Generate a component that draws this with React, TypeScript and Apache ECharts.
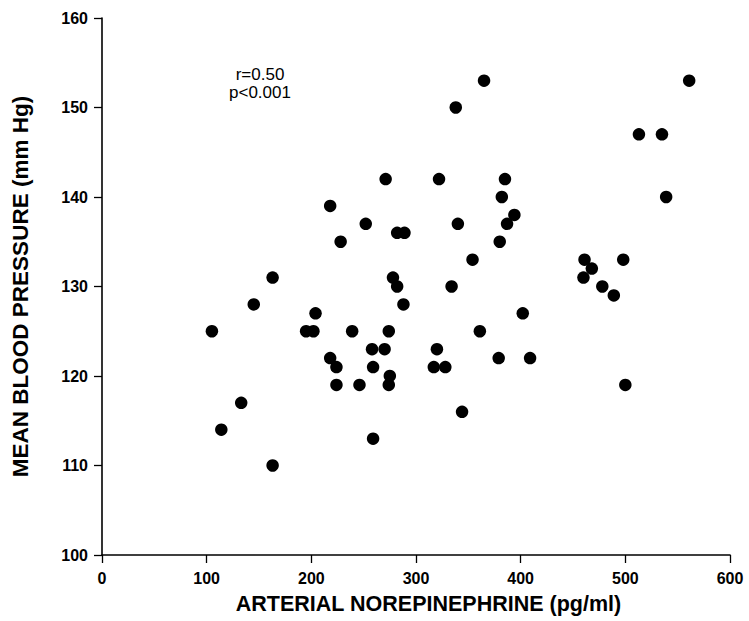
import React, { useEffect, useRef } from "react";
import * as echarts from "echarts";

const norepinephrine = [
  271, 218, 252, 282, 289, 228, 163, 278, 282, 365,
  338, 561, 513, 535, 539, 322, 385, 382, 394, 387,
  340, 380, 354, 334, 461, 468, 460, 498, 478, 489,
  145, 288, 204, 105, 195, 202, 239, 274, 258, 270,
  218, 224, 259, 275, 224, 246, 274, 133, 114, 259,
  163, 402, 361, 320, 317, 328, 379, 409, 500, 344,
];
const bloodPressure = [
  142, 139, 137, 136, 136, 135, 131, 131, 130, 153,
  150, 153, 147, 147, 140, 142, 142, 140, 138, 137,
  137, 135, 133, 130, 133, 132, 131, 133, 130, 129,
  128, 128, 127, 125, 125, 125, 125, 125, 123, 123,
  122, 121, 121, 120, 119, 119, 119, 117, 114, 113,
  110, 127, 125, 123, 121, 121, 122, 122, 119, 116,
];
const annotationLines = ["r=0.50", "p<0.001"];
const xTitle = "ARTERIAL NOREPINEPHRINE (pg/ml)";
const yTitle = "MEAN BLOOD PRESSURE (mm Hg)";

export default function App() {
  const ref = useRef<HTMLDivElement>(null);
  useEffect(() => {
    if (!ref.current) return;
    const chart = echarts.init(ref.current, null, { renderer: "svg" });
    const data = norepinephrine.map((x, i) => [x, bloodPressure[i]]);
    const font = "'Liberation Sans', Arial, sans-serif";
    chart.setOption({
      animation: false,
      backgroundColor: "#ffffff",
      grid: { left: 102, right: 19, top: 18, bottom: 66 },
      xAxis: {
        type: "value",
        min: 0,
        max: 600,
        interval: 100,
        name: xTitle,
        nameLocation: "middle",
        nameGap: 38,
        nameTextStyle: {
          color: "#000",
          fontSize: 21.5,
          fontWeight: "bold",
          fontFamily: font,
          padding: [0, 0, 0, 25],
        },
        axisLine: { show: true, onZero: false, lineStyle: { color: "#000", width: 1.6 } },
        axisTick: { show: true, inside: false, length: 8, lineStyle: { color: "#000", width: 1.3 } },
        axisLabel: { color: "#000", fontSize: 16, fontWeight: "bold", fontFamily: font, margin: 15 },
        splitLine: { show: false },
      },
      yAxis: {
        type: "value",
        min: 100,
        max: 160,
        interval: 10,
        name: yTitle,
        nameLocation: "middle",
        nameGap: 70,
        nameTextStyle: { color: "#000", fontSize: 22.5, fontWeight: "bold", fontFamily: font },
        axisLine: { show: true, onZero: false, lineStyle: { color: "#000", width: 1.6 } },
        axisTick: { show: true, inside: false, length: 8, lineStyle: { color: "#000", width: 1.3 } },
        axisLabel: { color: "#000", fontSize: 16, fontWeight: "bold", fontFamily: font, margin: 14 },
        splitLine: { show: false },
      },
      graphic: [
        {
          type: "text",
          x: 260,
          y: 65,
          style: {
            text: annotationLines.join("\n"),
            fill: "#000",
            fontSize: 17,
            fontFamily: font,
            align: "center",
            verticalAlign: "top",
            lineHeight: 18,
          },
        },
      ],
      series: [
        {
          type: "scatter",
          data,
          symbol: "circle",
          symbolSize: 12.5,
          itemStyle: { color: "#000", opacity: 1 },
          silent: true,
        },
      ],
    });
    return () => chart.dispose();
  }, []);
  return (
    <div
      ref={ref}
      style={{ position: "fixed", left: 0, top: 0, width: 749, height: 621 }}
    />
  );
}
